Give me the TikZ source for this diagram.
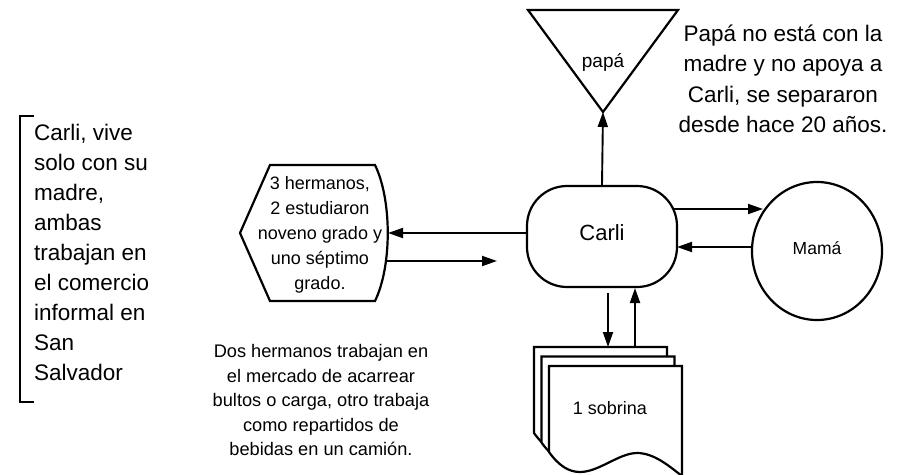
\documentclass[tikz,border=0pt]{standalone}
\usepackage{fontspec}
\setmainfont{Liberation Sans}
\usetikzlibrary{arrows.meta,shapes.geometric}
\begin{document}
\begin{tikzpicture}[x=1pt,y=-1pt,
  shp/.style={line width=2.2pt},
  arr/.style={line width=1.9pt,-{Triangle[length=15pt,width=10pt]}},
  bigtxt/.style={inner sep=0pt,font=\fontsize{22.5}{30}\selectfont},
  smalltxt/.style={inner sep=0pt,align=center,font=\fontsize{18.2}{24.5}\selectfont},
  sheet/.pic={\draw[shp,fill=white] (0,0) -- (133,0) -- (133,110)
      .. controls (120,100) and (105,87) .. (88,87)
      .. controls (70,87) and (50,106) .. (31,106)
      .. controls (20,106) and (10,100) .. (0,86) -- cycle;}
]
\useasboundingbox (0,0) rectangle (899,474);

% left bracket and text
\draw[shp] (34,116) -- (20,116) -- (20,402) -- (34,402);
\node[bigtxt,anchor=west,align=left] (lefttxt) at (34,252)
  {Carli, vive\\solo con su\\madre,\\ambas\\trabajan en\\el comercio\\informal en\\San\\Salvador};

% Carli
\node[shp,draw,rounded corners=40pt,minimum width=150pt,minimum height=101pt,
  inner sep=0pt,font=\fontsize{22}{26}\selectfont] (carli) at (602,236.5) {\raisebox{8pt}{Carli}};

% papa triangle
\draw[shp] (528,10) -- (678,10) -- (603,112) -- cycle;
\coordinate (papatip) at (603,112);
\node[inner sep=0pt,font=\fontsize{19}{22}\selectfont] (papa) at (603,62) {papá};
\draw[arr] (carli.north) -- (papatip);
\node[bigtxt,align=center,font=\fontsize{22.5}{30.5}\selectfont] (papatxt) at (783,79)
  {Papá no está con la\\madre y no apoya a\\Carli, se separaron\\desde hace 20 años.};

% Mama
\node[shp,draw,ellipse,minimum width=130pt,minimum height=138pt,inner sep=0pt,
  font=\fontsize{17.5}{20}\selectfont] (mama) at (817,251) {\raisebox{6pt}{Mamá}};
\coordinate (cm1) at (673,209);
\coordinate (cm2) at (763,209);
\coordinate (mc1) at (752,247);
\coordinate (mc2) at (677,247);
\draw[arr] (cm1) -- (cm2);
\draw[arr] (mc1) -- (mc2);

% hermanos display shape
\draw[shp] (240,233) -- (270,165) -- (375,165)
  .. controls (392,200) and (392,266) .. (375,301) -- (270,301) -- cycle;
\node[smalltxt,font=\fontsize{18}{25}\selectfont] (herm) at (320,235)
  {3 hermanos,\\2 estudiaron\\noveno grado y\\uno séptimo\\grado.};
\coordinate (hexin) at (388,233);
\coordinate (hexout) at (387,261);
\coordinate (hexfree) at (497,261);
\draw[arr] (carli.west |- hexin) -- (hexin);
\draw[arr] (hexout) -- (hexfree);

% bottom text
\node[smalltxt] (dos) at (321,400)
  {Dos hermanos trabajan en\\el mercado de acarrear\\bultos o carga, otro trabaja\\como repartidos de\\bebidas en un camión.};

% sobrina multi-document
\pic at (534,347) {sheet};
\pic at (541.5,356.5) {sheet};
\pic at (549,366) {sheet};
\node[inner sep=0pt,font=\fontsize{18}{22}\selectfont] (sob) at (610,408) {1 sobrina};
\coordinate (s1) at (608,293);
\coordinate (s2) at (608,347);
\coordinate (s3) at (635,347);
\coordinate (s4) at (635,288);
\draw[arr] (s1) -- (s2);
\draw[arr] (s3) -- (s4);
\end{tikzpicture}
\end{document}
